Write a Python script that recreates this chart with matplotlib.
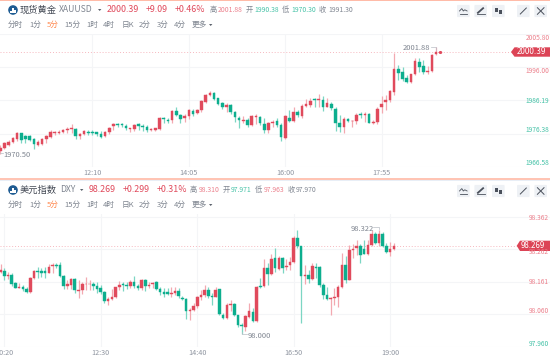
import matplotlib
matplotlib.use("Agg")
import matplotlib.pyplot as plt
import numpy as np
from matplotlib.patches import Circle, FancyBboxPatch, Polygon, Rectangle

plt.rcParams["font.family"] = ["Noto Sans CJK SC", "DejaVu Sans"]

RED = "#E04A5C"
GREEN = "#0CAE8E"
RED_WICK = "#F3A9B1"
GREEN_WICK = "#7CD6C3"
RED_SOFT = "#EC808C"
GREEN_SOFT = "#45C2A7"
GRAY = "#7F8590"
GRID = "#F4F5F7"

gold_open = [
    1971.3, 1972.2, 1973.2, 1973.8, 1974.8, 1976.5, 1975.8, 1975.7, 1974.7, 1973.2,
    1973.3, 1974.8, 1975.5, 1976.5, 1976.7, 1977.0, 1977.6, 1977.8, 1977.9, 1975.7,
    1976.3, 1977.0, 1976.9, 1976.8, 1976.3, 1975.7, 1976.8, 1978.7, 1979.3, 1979.2,
    1978.7, 1977.7, 1977.8, 1979.1, 1978.7, 1978.4, 1977.6, 1977.6, 1977.8, 1981.1,
    1980.4, 1980.4, 1983.1, 1982.0, 1980.9, 1981.6, 1983.2, 1982.4, 1983.3, 1985.8,
    1987.8, 1988.5, 1986.8, 1985.3, 1984.3, 1984.7, 1982.9, 1981.1, 1980.0, 1980.5,
    1978.9, 1981.4, 1981.4, 1979.2, 1977.4, 1979.4, 1980.1, 1978.9, 1975.0, 1980.9,
    1980.2, 1982.8, 1981.7, 1984.6, 1984.9, 1986.5, 1986.3, 1986.3, 1984.3, 1985.1,
    1983.8, 1979.4, 1978.4, 1980.7, 1980.0, 1980.2, 1982.1, 1982.0, 1982.2, 1979.6,
    1979.8, 1984.1, 1985.7, 1986.3, 1988.6, 1995.3, 1994.6, 1992.7, 1991.7, 1994.0,
    1997.6, 1996.3, 1994.4, 1994.8, 1999.8, 2000.2,
]
gold_close = [
    1972.3, 1973.5, 1973.9, 1975.0, 1976.5, 1974.5, 1974.7, 1974.5, 1973.3, 1973.8,
    1974.8, 1975.7, 1977.0, 1976.9, 1977.0, 1977.6, 1977.9, 1978.1, 1975.8, 1976.4,
    1977.3, 1976.5, 1976.7, 1976.4, 1975.4, 1976.8, 1978.1, 1979.3, 1979.0, 1979.0,
    1978.0, 1978.0, 1978.9, 1978.7, 1978.5, 1977.4, 1977.9, 1978.0, 1981.1, 1980.6,
    1980.2, 1983.1, 1982.0, 1980.7, 1981.6, 1983.3, 1982.3, 1983.3, 1986.0, 1987.7,
    1988.4, 1986.6, 1985.1, 1984.3, 1984.9, 1982.8, 1981.2, 1980.4, 1980.5, 1978.9,
    1981.6, 1981.7, 1979.4, 1977.4, 1979.5, 1979.9, 1978.9, 1975.3, 1981.6, 1980.1,
    1982.8, 1981.8, 1984.6, 1985.1, 1986.1, 1986.3, 1986.5, 1984.3, 1985.3, 1983.9,
    1979.4, 1978.4, 1980.7, 1980.1, 1980.2, 1982.0, 1981.9, 1982.3, 1979.6, 1979.9,
    1983.7, 1985.1, 1986.3, 1988.9, 1995.3, 1994.3, 1992.4, 1991.7, 1994.0, 1997.8,
    1996.1, 1994.4, 1994.9, 1999.5, 2000.3, 2000.39,
]
gold_high = [
    1973.0, 1974.0, 1974.5, 1975.5, 1976.8, 1976.7, 1976.0, 1976.0, 1975.0, 1974.5,
    1975.0, 1976.0, 1977.4, 1977.2, 1977.4, 1977.9, 1978.4, 1979.2, 1978.1, 1976.7,
    1977.6, 1977.4, 1977.4, 1977.0, 1977.1, 1977.2, 1978.4, 1979.6, 1979.6, 1979.6,
    1979.1, 1978.2, 1979.1, 1979.4, 1979.1, 1978.9, 1978.2, 1978.2, 1981.4, 1981.2,
    1980.9, 1983.3, 1984.1, 1982.3, 1982.3, 1983.8, 1983.8, 1983.8, 1986.3, 1988.2,
    1988.9, 1988.7, 1987.0, 1985.8, 1985.3, 1985.1, 1983.1, 1981.6, 1981.6, 1980.9,
    1981.9, 1982.1, 1981.7, 1980.9, 1979.9, 1980.4, 1980.9, 1979.4, 1981.9, 1983.3,
    1984.3, 1983.3, 1985.0, 1986.5, 1986.8, 1986.8, 1988.0, 1987.4, 1987.0, 1985.8,
    1984.3, 1981.9, 1981.2, 1981.1, 1980.4, 1982.5, 1982.8, 1982.8, 1982.4, 1980.4,
    1984.3, 1987.4, 1987.7, 1989.2, 2000.0, 1996.6, 1996.1, 1993.6, 1994.1, 1998.8,
    1998.6, 1998.1, 1996.3, 1999.7, 2001.88, 2000.7,
]
gold_low = [
    1970.5, 1971.9, 1972.7, 1973.5, 1974.3, 1973.7, 1973.5, 1974.3, 1972.0, 1972.7,
    1973.0, 1973.7, 1975.2, 1976.0, 1976.3, 1976.5, 1976.7, 1976.5, 1974.7, 1974.9,
    1976.0, 1975.9, 1976.0, 1975.7, 1975.1, 1975.3, 1976.3, 1977.4, 1978.4, 1978.4,
    1977.6, 1977.0, 1977.2, 1977.6, 1977.2, 1977.0, 1977.2, 1977.2, 1977.6, 1979.4,
    1979.4, 1979.6, 1981.6, 1979.6, 1979.9, 1980.6, 1981.7, 1982.1, 1982.8, 1985.3,
    1987.5, 1986.3, 1984.7, 1983.8, 1982.8, 1982.3, 1979.9, 1978.1, 1979.6, 1978.4,
    1978.6, 1979.2, 1978.9, 1976.5, 1976.7, 1978.4, 1978.4, 1974.3, 1974.7, 1979.9,
    1979.9, 1981.4, 1980.9, 1984.3, 1984.3, 1984.3, 1984.3, 1983.1, 1984.1, 1983.5,
    1977.2, 1976.9, 1976.7, 1979.7, 1978.4, 1979.2, 1980.9, 1979.9, 1979.4, 1979.2,
    1979.2, 1982.5, 1983.3, 1985.8, 1987.8, 1992.2, 1992.0, 1991.4, 1991.4, 1993.6,
    1994.6, 1993.9, 1994.1, 1994.6, 1999.5, 2000.1,
]

dxy_open = [
    98.192, 98.195, 98.180, 98.182, 98.157, 98.143, 98.146, 98.138, 98.128, 98.173,
    98.193, 98.193, 98.194, 98.189, 98.209, 98.213, 98.212, 98.180, 98.149, 98.152,
    98.168, 98.132, 98.134, 98.153, 98.153, 98.153, 98.149, 98.142, 98.130, 98.100,
    98.109, 98.115, 98.144, 98.153, 98.151, 98.149, 98.161, 98.149, 98.142, 98.166,
    98.148, 98.154, 98.159, 98.139, 98.130, 98.128, 98.123, 98.127, 98.132, 98.111,
    98.108, 98.069, 98.072, 98.087, 98.115, 98.120, 98.136, 98.117, 98.115, 98.137,
    98.059, 98.049, 98.090, 98.092, 98.057, 98.027, 98.022, 98.053, 98.068, 98.038,
    98.147, 98.148, 98.202, 98.185, 98.234, 98.201, 98.234, 98.205, 98.213, 98.221,
    98.295, 98.270, 98.178, 98.182, 98.170, 98.207, 98.205, 98.150, 98.120, 98.109,
    98.111, 98.113, 98.145, 98.213, 98.167, 98.259, 98.264, 98.272, 98.262, 98.248,
    98.275, 98.309, 98.282, 98.309, 98.272, 98.254, 98.262,
]
dxy_close = [
    98.197, 98.180, 98.183, 98.153, 98.143, 98.146, 98.138, 98.128, 98.173, 98.193,
    98.190, 98.189, 98.187, 98.207, 98.213, 98.211, 98.180, 98.148, 98.153, 98.168,
    98.135, 98.135, 98.153, 98.155, 98.155, 98.149, 98.139, 98.129, 98.100, 98.107,
    98.115, 98.144, 98.152, 98.150, 98.147, 98.160, 98.149, 98.143, 98.166, 98.148,
    98.152, 98.158, 98.139, 98.129, 98.123, 98.124, 98.127, 98.131, 98.116, 98.107,
    98.069, 98.072, 98.087, 98.115, 98.119, 98.136, 98.117, 98.113, 98.136, 98.061,
    98.049, 98.089, 98.093, 98.058, 98.027, 98.024, 98.054, 98.070, 98.038, 98.146,
    98.145, 98.202, 98.184, 98.232, 98.202, 98.234, 98.203, 98.211, 98.221, 98.295,
    98.270, 98.180, 98.181, 98.170, 98.208, 98.204, 98.151, 98.120, 98.108, 98.111,
    98.114, 98.145, 98.213, 98.167, 98.259, 98.263, 98.270, 98.243, 98.248, 98.275,
    98.309, 98.282, 98.309, 98.272, 98.254, 98.262, 98.272,
]
dxy_high = [
    98.216, 98.202, 98.192, 98.187, 98.161, 98.158, 98.151, 98.144, 98.175, 98.197,
    98.206, 98.202, 98.206, 98.216, 98.218, 98.218, 98.223, 98.182, 98.166, 98.172,
    98.172, 98.166, 98.161, 98.174, 98.166, 98.161, 98.161, 98.151, 98.133, 98.113,
    98.138, 98.146, 98.164, 98.161, 98.161, 98.166, 98.179, 98.153, 98.168, 98.168,
    98.161, 98.161, 98.164, 98.146, 98.141, 98.141, 98.144, 98.146, 98.141, 98.117,
    98.110, 98.079, 98.094, 98.117, 98.136, 98.151, 98.144, 98.125, 98.144, 98.139,
    98.063, 98.094, 98.103, 98.094, 98.059, 98.032, 98.058, 98.094, 98.079, 98.148,
    98.172, 98.230, 98.218, 98.247, 98.264, 98.241, 98.237, 98.230, 98.237, 98.301,
    98.322, 98.272, 98.213, 98.197, 98.218, 98.220, 98.208, 98.156, 98.146, 98.115,
    98.141, 98.151, 98.251, 98.239, 98.275, 98.278, 98.290, 98.278, 98.290, 98.290,
    98.322, 98.316, 98.322, 98.316, 98.280, 98.285, 98.280,
]
dxy_low = [
    98.189, 98.166, 98.168, 98.149, 98.140, 98.140, 98.133, 98.125, 98.125, 98.168,
    98.172, 98.175, 98.172, 98.187, 98.187, 98.202, 98.177, 98.138, 98.138, 98.139,
    98.125, 98.111, 98.123, 98.135, 98.135, 98.135, 98.125, 98.123, 98.094, 98.088,
    98.103, 98.111, 98.135, 98.133, 98.138, 98.140, 98.140, 98.135, 98.135, 98.133,
    98.141, 98.141, 98.135, 98.120, 98.115, 98.120, 98.115, 98.120, 98.110, 98.105,
    98.045, 98.043, 98.069, 98.079, 98.105, 98.115, 98.110, 98.089, 98.113, 98.058,
    98.046, 98.046, 98.069, 98.055, 98.020, 98.000, 98.010, 98.048, 98.035, 98.035,
    98.143, 98.144, 98.151, 98.182, 98.190, 98.197, 98.189, 98.197, 98.197, 98.218,
    98.264, 98.033, 98.154, 98.156, 98.167, 98.172, 98.146, 98.107, 98.105, 98.058,
    98.089, 98.084, 98.141, 98.156, 98.165, 98.234, 98.244, 98.220, 98.246, 98.244,
    98.272, 98.278, 98.272, 98.268, 98.249, 98.241, 98.260,
]

gold_ticks = [22, 45, 68, 91]
gold_tick_labels = ["12:10", "14:05", "16:00", "17:55"]
dxy_ticks = [0, 26, 52, 78, 104]
dxy_tick_labels = ["10:20", "12:30", "14:40", "16:50", "19:00"]
gold_grid = [1966.58, 1976.38, 1986.19, 1996.00, 2005.80]
dxy_grid = [97.960, 98.060, 98.161, 98.262, 98.362]
gold_last = 2000.39
# the dotted line sits a touch above the printed 98.269 in the picture
dxy_last = 98.272

W, H = 550, 359
fig = plt.figure(figsize=(W / 100, H / 100), dpi=100)


def add_axes_px(x0, y0, x1, y1):
    return fig.add_axes([x0 / W, 1 - y1 / H, (x1 - x0) / W, (y1 - y0) / H])


def candles(ax, xs, o, c, h, l, width):
    xs = np.asarray(xs)
    o, c, h, l = map(np.asarray, (o, c, h, l))
    up = c >= o
    ax.vlines(xs[up], l[up], h[up], color=RED_WICK, lw=0.9, zorder=3)
    ax.vlines(xs[~up], l[~up], h[~up], color=GREEN_WICK, lw=0.9, zorder=3)
    bottom = np.minimum(o, c)
    height = np.abs(c - o)
    ax.bar(xs[up], height[up], width, bottom[up], color=RED, ec=RED, lw=0.3, zorder=4)
    ax.bar(xs[~up], height[~up], width, bottom[~up], color=GREEN, ec=GREEN, lw=0.3, zorder=4)


def style_axes(ax, xticks, xlabels, grid):
    ax.set_xticks(xticks)
    ax.set_xticklabels(xlabels, fontsize=5.2, color="#8F95A0")
    ax.set_yticks(grid)
    ax.set_yticklabels([])
    ax.tick_params(length=0, pad=1.5)
    ax.grid(True, color=GRID, lw=0.8, zorder=0)
    ax.set_axisbelow(True)
    for s in ax.spines.values():
        s.set_visible(False)
    ax.patch.set_alpha(0)


# gold panel
ax1 = add_axes_px(0, 33.7, W, 167)
candles(ax1, np.arange(len(gold_open)), gold_open, gold_close, gold_high, gold_low, 0.62)
ax1.set_xlim(-0.07, 131.19)
ax1.set_ylim(1966.58, 2005.82)
style_axes(ax1, gold_ticks, gold_tick_labels, gold_grid)
ax1.scatter([len(gold_open) - 1], [gold_last], s=5, color=RED, zorder=5, lw=0)

# dollar index panel
ax2 = add_axes_px(0, 214.3, W, 346.7)
candles(ax2, np.arange(-1, len(dxy_open) - 1), dxy_open, dxy_close, dxy_high, dxy_low, 0.7)
ax2.set_xlim(-1.16, 147.09)
ax2.set_ylim(97.960, 98.3694)
style_axes(ax2, dxy_ticks, dxy_tick_labels, dxy_grid)

# everything else is placed in pixels on a full-figure overlay
ov = fig.add_axes([0, 0, 1, 1], zorder=10)
ov.set_xlim(0, W)
ov.set_ylim(H, 0)
ov.axis("off")
ov.patch.set_alpha(0)


def put(x, y, s, size, color, ha="left", **kw):
    ov.text(x, y, s, fontsize=size, color=color, ha=ha, va="center", **kw)


def header(y0, name, code, code_x, caret_x, vals):
    # logo
    cy = y0 + 10
    ov.add_patch(Circle((13, cy), 4.8, fc="#1F5C93", ec="none"))
    for dx, top in ((-2, 1), (0, -2.2), (2, 0)):
        ov.add_patch(Rectangle((13 + dx - 0.55, cy + top), 1.1, 2.6 - top, fc="white", ec="none"))
    put(20, cy, name, 6.7, "#444A55")
    put(code_x, cy, code, 6.2, GRAY)
    ov.add_patch(Polygon([(caret_x, cy - 1), (caret_x + 3.4, cy - 1), (caret_x + 1.7, cy + 1)], fc="#5B616C", ec="none"))
    for x, s, size, col in vals:
        put(x, cy, s, size, col)
    # period tabs
    ty = y0 + 25
    tabs = ["分时", "1分", "5分", "15分", "1时", "4时", "日K", "2分", "3分", "4分", "更多"]
    tab_x = [8, 29, 47, 64.7, 86, 103, 121.7, 139, 157, 174, 191.7]
    for x, s in zip(tab_x, tabs):
        put(x, ty, s, 5.5, "#FF8B52" if s == "5分" else GRAY)
    ov.add_patch(Polygon([(209, ty - 1), (212.4, ty - 1), (210.7, ty + 1)], fc="#5B616C", ec="none"))
    # toolbar buttons
    by = cy + 1
    for i, x in enumerate((463.3, 480.7, 498.3, 523.3, 540.7)):
        ov.add_patch(FancyBboxPatch((x - 6.3, by - 6.1), 12.6, 12.2, boxstyle="round,pad=0,rounding_size=1",
                                    fc="#EEF1F5", ec="none"))
        c = "#4A505B"
        if i == 0:
            ov.plot([x - 3.8, x - 1.5, x, x + 1.5, x + 3.8], [by, by - 2.4, by, by - 1.2, by], color=c, lw=0.6)
            ov.plot([x - 3.8, x + 3.8], [by + 3, by + 3], color=c, lw=0.6)
        elif i == 1:
            ov.plot([x - 2.8, x + 2.4], [by + 1.8, by - 2.8], color=c, lw=1.3)
            ov.plot([x - 3.8, x + 3.8], [by + 3.3, by + 3.3], color=c, lw=0.6)
        elif i == 2:
            ov.add_patch(Rectangle((x - 3.2, by - 3), 2.6, 4.2, fc=c, ec="none"))
            ov.add_patch(Rectangle((x + 0.8, by - 1), 2.6, 4.2, fc=c, ec="none"))
        elif i == 3:
            ov.plot([x - 3, x + 3], [by + 3, by - 3], color=c, lw=0.7)
        else:
            ov.plot([x - 3.3, x + 3.3], [by + 3.3, by - 3.3], color=c, lw=0.7)
            ov.plot([x - 3.3, x + 3.3], [by - 3.3, by + 3.3], color=c, lw=0.7)


header(0, "现货黄金", "XAUUSD", 59, 98, [
    (107, "2000.39", 6.4, RED), (145.3, "+9.09", 6.4, RED), (174.7, "+0.46%", 6.4, RED),
    (209.7, "高", 5.2, GRAY), (218, "2001.88", 4.9, RED_SOFT),
    (246, "开", 5.2, GRAY), (254.7, "1990.38", 4.9, GREEN_SOFT),
    (282.3, "低", 5.2, GRAY), (291.7, "1970.30", 4.9, GREEN_SOFT),
    (319, "收", 5.2, GRAY), (328, "1991.30", 4.9, GRAY),
])
header(180, "美元指数", "DXY", 59.7, 80, [
    (89, "98.269", 6.4, RED), (122.3, "+0.299", 6.4, RED), (156.7, "+0.31%", 6.4, RED),
    (190, "高", 5.2, GRAY), (198.7, "98.310", 4.9, RED_SOFT),
    (222.7, "开", 5.2, GRAY), (231, "97.971", 4.9, GREEN_SOFT),
    (255, "低", 5.2, GRAY), (263.7, "97.963", 4.9, RED_SOFT),
    (288, "收", 5.2, GRAY), (296, "97.970", 4.9, GRAY),
])

# edges between panels
ov.add_patch(Rectangle((0, 0), W, 1.2, fc="#FFBBA8", ec="none"))
ov.add_patch(Rectangle((0, 178.3), W, 1.7, fc="#FFC4B4", ec="none"))
ov.add_patch(Rectangle((0, 180), W, 1.4, fc="#E8EEF6", ec="none"))

# right hand scale labels
for y, s, col in [(37.7, "2005.80", RED_SOFT), (71, "1996.00", RED_SOFT), (101, "1986.19", GREEN_SOFT),
                  (130, "1976.38", GREEN_SOFT), (163, "1966.58", GREEN_SOFT)]:
    put(525.7, y, s, 4.8, col)
for y, s, col in [(218, "98.362", RED_SOFT), (252, "98.262", RED_SOFT), (281.7, "98.161", RED_SOFT),
                  (310.7, "98.060", RED_SOFT), (344, "97.960", GREEN_SOFT)]:
    put(529, y, s, 4.8, col)

# current price lines and tags
ax1.axhline(gold_last, color="#F6B8BF", lw=0.7, ls=(0, (1, 2)), xmax=511 / W, zorder=2)
ax2.axhline(dxy_last, color="#F6B8BF", lw=0.7, ls=(0, (1, 2)), xmax=517 / W, zorder=2)
ov.add_patch(Polygon([(511, 52), (514.5, 47.3), (550, 47.3), (550, 56.7), (514.5, 56.7)], fc="#DC4456", ec="none"))
put(517, 52, "2000.39", 5.8, "white")
ov.add_patch(Polygon([(516.7, 245.8), (520, 240.7), (550, 240.7), (550, 251), (520, 251)], fc="#DC4456", ec="none"))
put(521, 245.8, "98.269", 5.7, "white")

# high / low markers
mark = "#B9BDC5"
put(3, 155, "1970.50", 5.4, GRAY)
ov.plot([0, 3], [152.5, 152.5], color=mark, lw=0.5)
put(403, 48, "2001.88", 5.4, GRAY)
ov.plot([431, 436, 436], [46.7, 46.7, 50], color=mark, lw=0.5)
put(351, 229, "98.322", 5.4, GRAY)
ov.plot([373, 379, 379], [227, 227, 229], color=mark, lw=0.5)
put(248, 336, "98.000", 5.4, GRAY)
ov.plot([242, 242, 247], [332, 334, 334], color=mark, lw=0.5)

fig.savefig("out.png", dpi=100, facecolor="white")
